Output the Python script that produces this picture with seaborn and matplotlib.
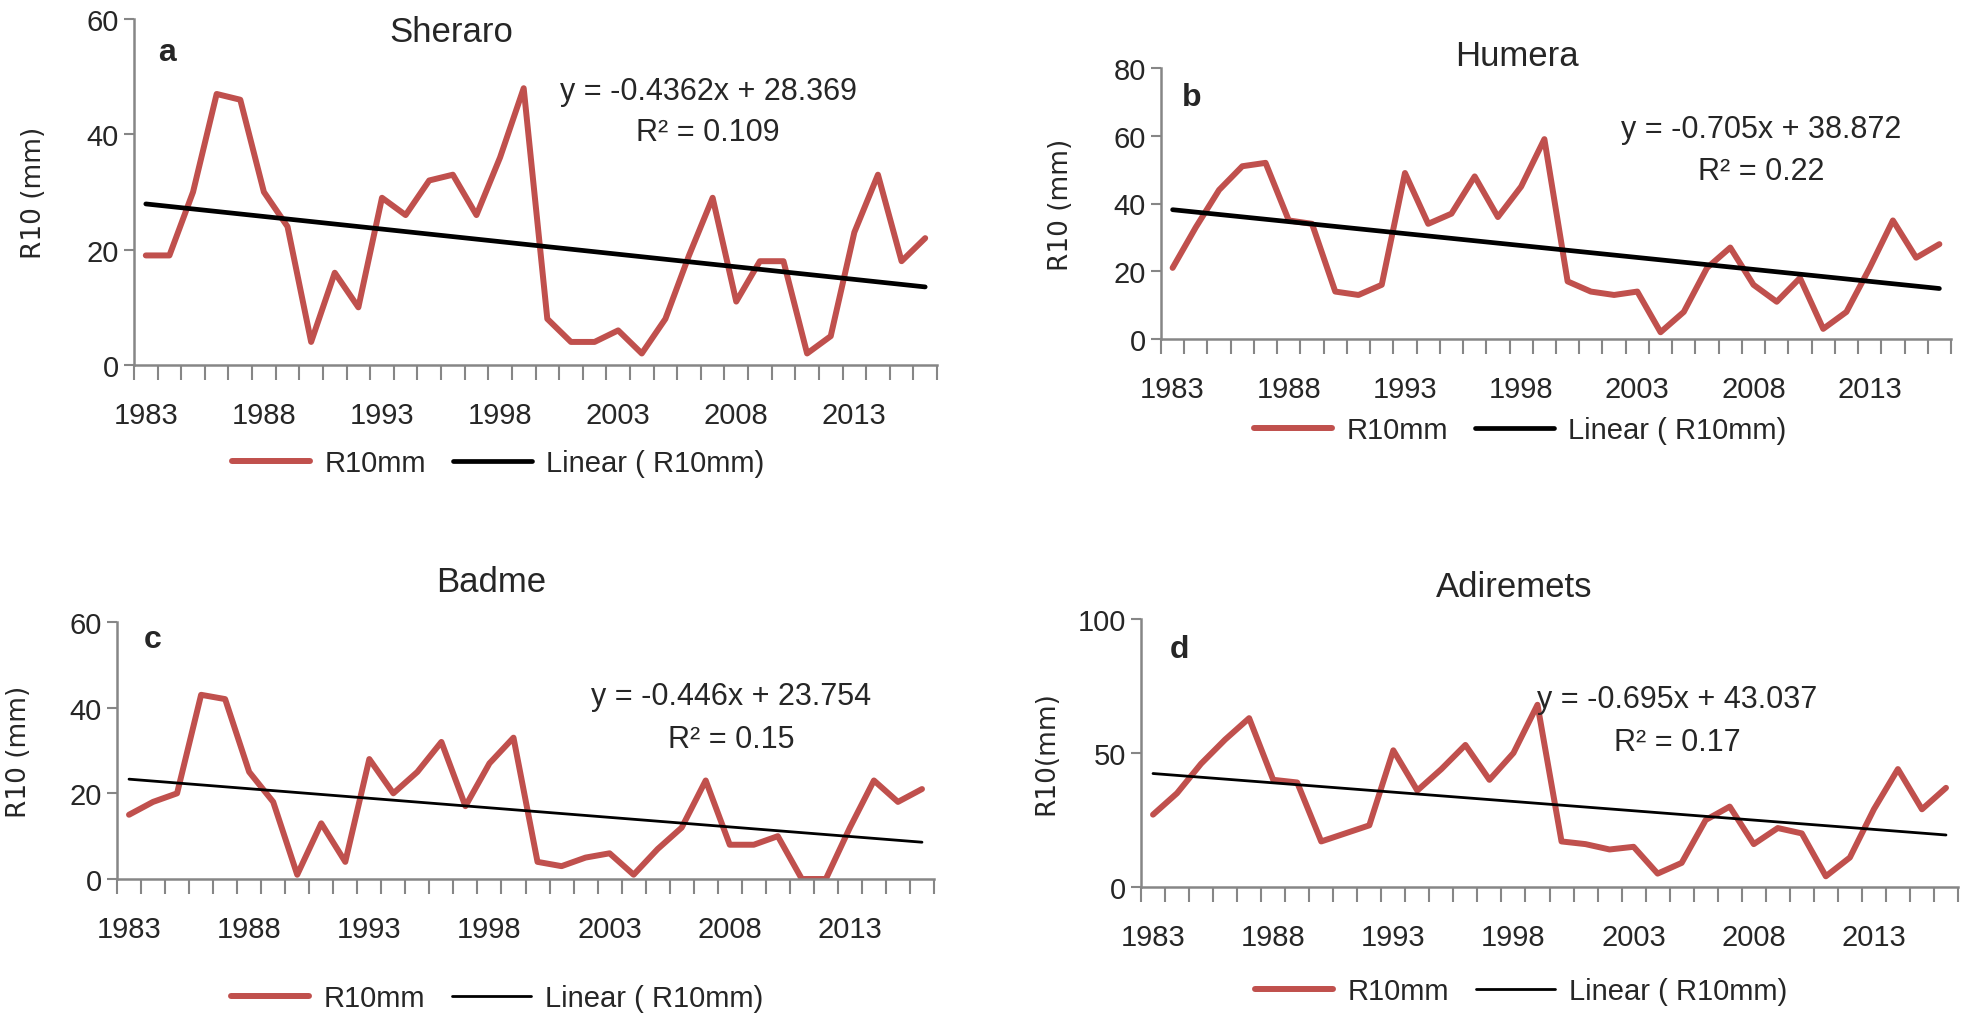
import numpy as np
import pandas as pd
import matplotlib
matplotlib.use("Agg")
import matplotlib.pyplot as plt
from matplotlib.ticker import MultipleLocator, FixedLocator
import seaborn as sns

years = list(range(1983, 2017))

sheraro = [19, 19, 30, 47, 46, 30, 24, 4, 16, 10, 29, 26, 32, 33, 26, 36, 48,
           8, 4, 4, 6, 2, 8, 19, 29, 11, 18, 18, 2, 5, 23, 33, 18, 22]
humera = [21, 33, 44, 51, 52, 35, 34, 14, 13, 16, 49, 34, 37, 48, 36, 45, 59,
          17, 14, 13, 14, 2, 8, 21, 27, 16, 11, 18, 3, 8, 21, 35, 24, 28]
badme = [15, 18, 20, 43, 42, 25, 18, 1, 13, 4, 28, 20, 25, 32, 17, 27, 33,
         4, 3, 5, 6, 1, 7, 12, 23, 8, 8, 10, 0, 0, 12, 23, 18, 21]
adiremets = [27, 35, 46, 55, 63, 40, 39, 17, 20, 23, 51, 36, 44, 53, 40, 50, 68,
             17, 16, 14, 15, 5, 9, 25, 30, 16, 22, 20, 4, 11, 29, 44, 29, 37]

stations = ["Sheraro", "Humera", "Badme", "Adiremets"]
letters = ["a", "b", "c", "d"]
slopes = [-0.4362, -0.705, -0.446, -0.695]
intercepts = [28.369, 38.872, 23.754, 43.037]
r2_labels = ["0.109", "0.22", "0.15", "0.17"]
eq_labels = ["y = -0.4362x + 28.369", "y = -0.705x + 38.872",
             "y = -0.446x + 23.754", "y = -0.695x + 43.037"]
ylabels = ["R10 (mm)", "R10 (mm)", "R10 (mm)", "R10(mm)"]
ymax = [60, 80, 60, 100]
ystep = [20, 20, 20, 50]
xtick_labels = [1983, 1988, 1993, 1998, 2003, 2008, 2013]
series = [sheraro, humera, badme, adiremets]

sns.set_style("white")
plt.rcParams['font.family'] = ['Liberation Sans Narrow', 'Liberation Sans', 'DejaVu Sans']

W, H = 1961, 1020
fig = plt.figure(figsize=(W / 100, H / 100), dpi=100)

# layout in pixels: left, top, right, bottom
boxes = [(134, 20, 937, 366), (1161, 69, 1951, 340),
         (117, 623, 934, 880), (1141, 620, 1958, 888)]
title_pos = [(451, 33), (1517, 56), (491, 583), (1514, 588)]
letter_pos = [(167, 53), (1192, 98), (153, 640), (1179, 650)]
eq_pos = [(708, 92), (1761, 130), (731, 697), (1677, 700)]
r2_pos = [(708, 133), (1761, 172), (731, 740), (1677, 743)]
ylab_pos = [(34, 193), (1061, 205), (19, 752), (1046, 753)]
leg_pos = [(498, 464), (1520, 431), (497, 999), (1521, 992)]
trend_lw = [3.4, 3.4, 2.0, 2.0]

red = "#C0504D"
gray = "#868686"


def fx(px):
    return px / W


def fy(py):
    return 1 - py / H


for i in range(4):
    l, t, r, b = boxes[i]
    ax = fig.add_axes([fx(l), fy(b), fx(r) - fx(l), fy(t) - fy(b)])
    df = pd.DataFrame({"Year": years, "R10": series[i]})
    idx = np.arange(1, len(years) + 1)
    df["trend"] = slopes[i] * idx + intercepts[i]
    sns.lineplot(data=df, x="Year", y="R10", ax=ax, color=red, lw=4.3,
                 label="R10mm")
    sns.lineplot(data=df, x="Year", y="trend", ax=ax, color="black",
                 lw=trend_lw[i], label="Linear ( R10mm)")
    ax.set_xlim(1982.5, 2016.5)
    ax.set_ylim(0, ymax[i])
    ax.yaxis.set_major_locator(MultipleLocator(ystep[i]))
    ax.xaxis.set_major_locator(FixedLocator(xtick_labels))
    ax.xaxis.set_minor_locator(FixedLocator(np.arange(1982.5, 2017, 1.0)))
    ax.tick_params(axis="x", which="major", length=0, labelsize=21, pad=26)
    ax.tick_params(axis="x", which="minor", length=11, width=1.5,
                   color=gray, direction="out", bottom=True)
    ax.tick_params(axis="y", which="major", length=7, width=1.5, color=gray,
                   direction="out", labelsize=21, left=True, pad=4)
    for s in ["top", "right"]:
        ax.spines[s].set_visible(False)
    for s in ["left", "bottom"]:
        ax.spines[s].set_color(gray)
        ax.spines[s].set_linewidth(1.8)
    ax.set_xlabel("")
    ax.set_ylabel("")
    ax.set_facecolor("none")
    ax.legend_.remove()
    handles, labs = ax.get_legend_handles_labels()
    lx, ly = leg_pos[i]
    fig.legend(handles, labs, loc="center", bbox_to_anchor=(fx(lx), fy(ly)),
               ncol=2, frameon=False, fontsize=21, handlelength=2.7,
               columnspacing=0.9, handletextpad=0.5)

    fig.text(fx(title_pos[i][0]), fy(title_pos[i][1]), stations[i],
             ha="center", va="center", fontsize=25)
    fig.text(fx(letter_pos[i][0]), fy(letter_pos[i][1]), letters[i],
             ha="center", va="center", fontsize=23, fontweight="bold",
             family=["Liberation Sans", "DejaVu Sans"])
    fig.text(fx(eq_pos[i][0]), fy(eq_pos[i][1]), eq_labels[i],
             ha="center", va="center", fontsize=22)
    fig.text(fx(r2_pos[i][0]), fy(r2_pos[i][1]), "R² = " + r2_labels[i],
             ha="center", va="center", fontsize=22)
    fig.text(fx(ylab_pos[i][0]), fy(ylab_pos[i][1]), ylabels[i],
             ha="center", va="center", fontsize=19, rotation=90,
             family=["DejaVu Sans"])

fig.savefig("out.png", dpi=100)
